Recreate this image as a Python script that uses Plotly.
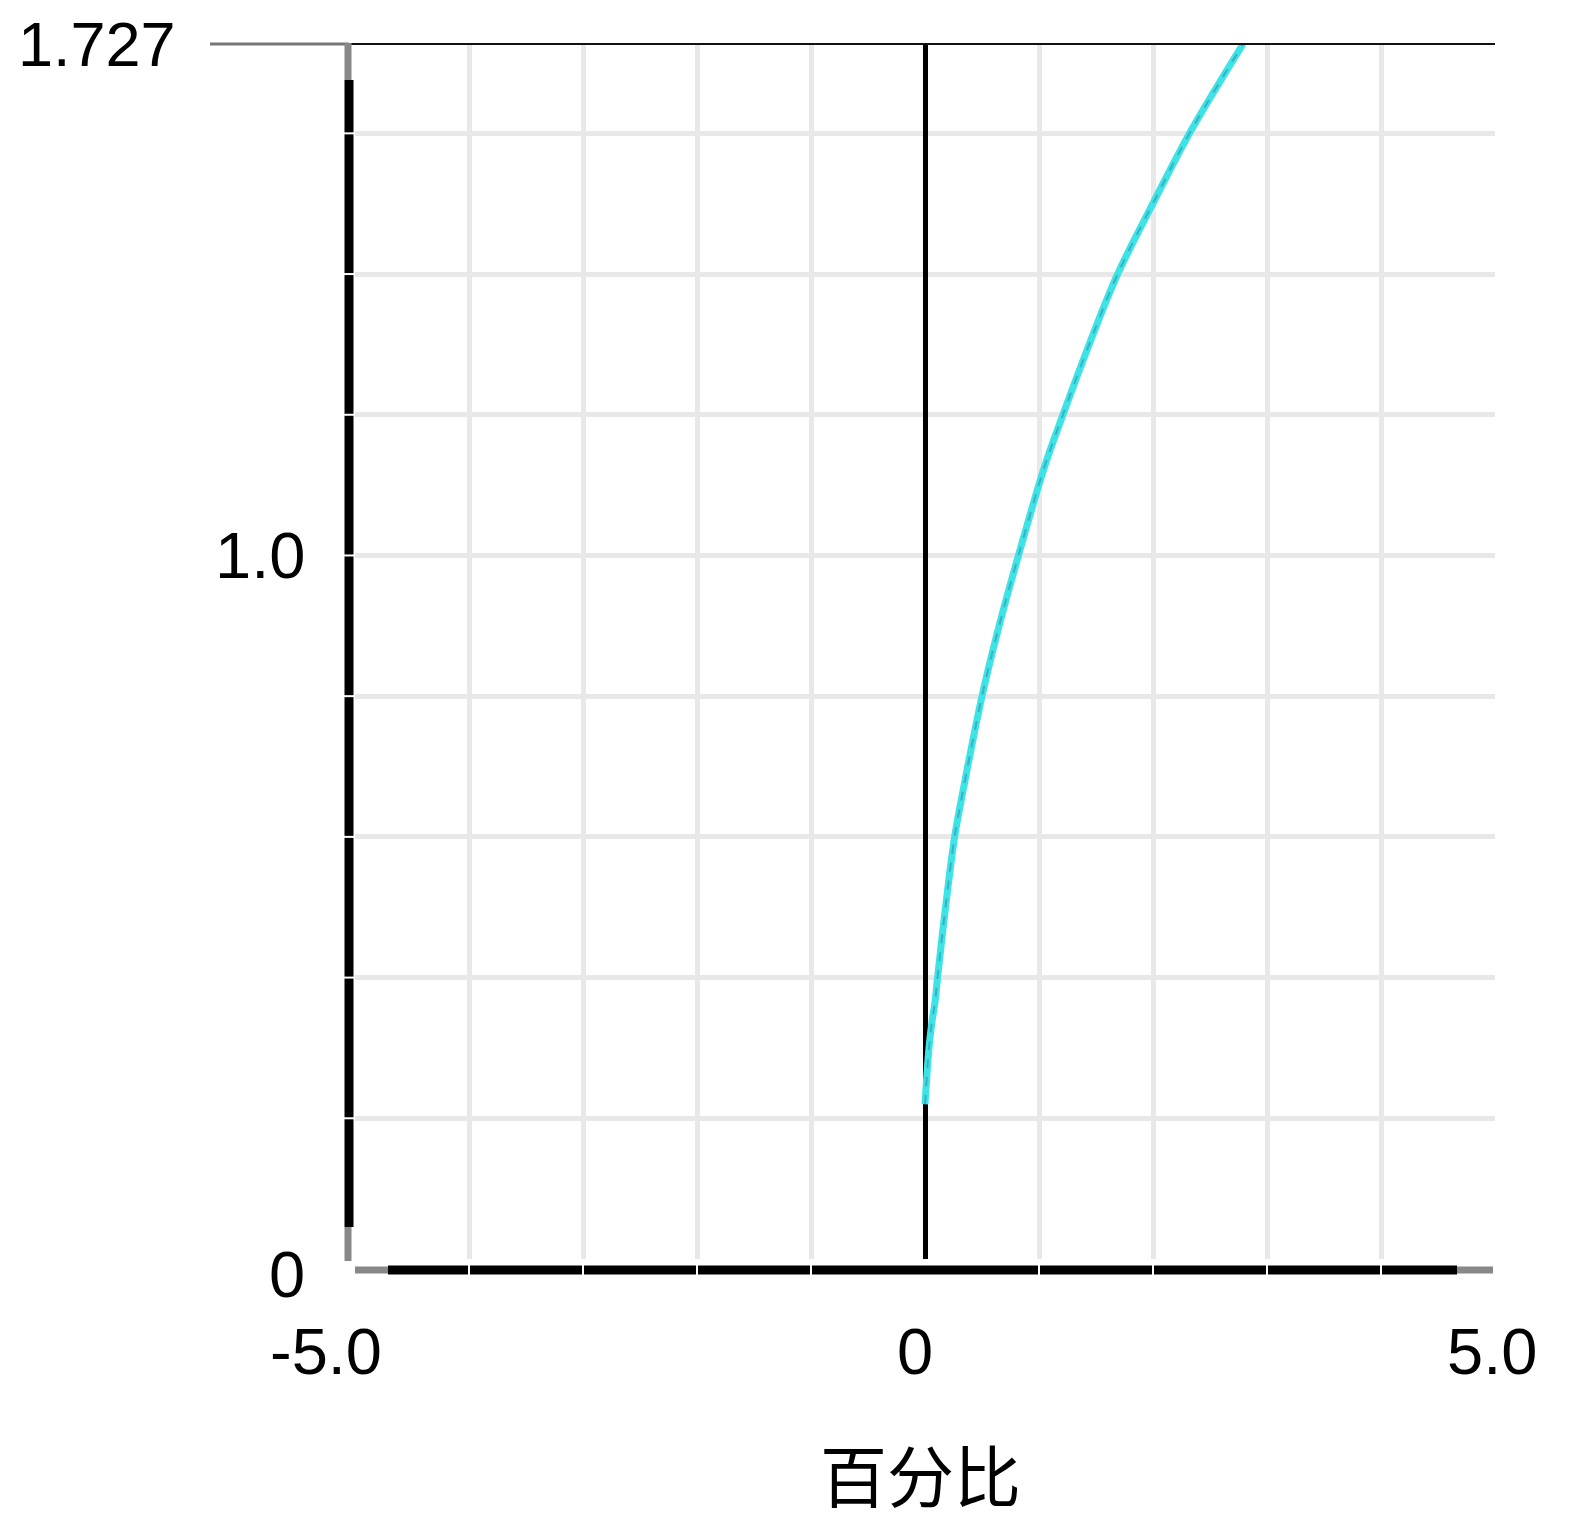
import plotly.graph_objects as go

# curve (x = percent, y = value)
curve_y = [0.22, 0.30, 0.336, 0.368, 0.40, 0.50, 0.60, 0.671, 0.80, 0.90, 1.00, 1.127, 1.20, 1.30, 1.40, 1.51, 1.60, 1.727]
curve_x = [0.00, 0.035, 0.06, 0.09, 0.11, 0.18, 0.26, 0.34, 0.50, 0.65, 0.82, 1.05, 1.21, 1.44, 1.69, 2.03, 2.32, 2.79]

x_ticks = [-5.0, 0.0, 5.0]
x_tick_text = ["-5.0", "0", "5.0"]
x_tick_shift = [-29, -10, -3]
y_ticks = [1.727, 1.0, 0.0]
y_tick_text = ["1.727", "1.0", "0"]
y_tick_right = [178, 307, 307]
y_tick_shift = [0, 0, -15]
grid_x = [-4, -3, -2, -1, 1, 2, 3, 4]
grid_y = [0.2, 0.4, 0.6, 0.8, 1.0, 1.2, 1.4, 1.6]

FONT = "Liberation Sans, Arial, sans-serif"
OFF = 8  # page body margin
W, H = 1575 - OFF, 1537 - OFF
L, T = 355 - OFF, 44 - OFF
R = W - (1495 - OFF)
B = H - (1259 - OFF)
pw, ph = W - L - R, H - T - B


def px(v):
    return (v - OFF - L) / pw


def py(v):
    return (H - B - (v - OFF)) / ph


fig = go.Figure()

fig.add_trace(go.Scatter(x=curve_x, y=curve_y, mode="lines",
                         line=dict(color="#3ee3e6", width=7, shape="spline", smoothing=1.0),
                         showlegend=False))
fig.add_trace(go.Scatter(x=curve_x, y=curve_y, mode="lines",
                         line=dict(color="#2a5a8a", width=2, dash="dash", shape="spline", smoothing=1.0),
                         opacity=0.35, showlegend=False))

shapes = []
# top border
shapes.append(dict(type="line", xref="paper", yref="paper", x0=px(210), x1=px(349), y0=1, y1=1,
                   line=dict(color="#777777", width=3)))
shapes.append(dict(type="line", xref="paper", yref="paper", x0=px(349), x1=px(1495), y0=1, y1=1,
                   line=dict(color="#111111", width=2)))
# left axis
shapes.append(dict(type="line", xref="paper", yref="paper", x0=px(349), x1=px(349), y0=py(80), y1=py(1227),
                   line=dict(color="black", width=9)))
for a, b in [(43, 80), (1227, 1261)]:
    shapes.append(dict(type="line", xref="paper", yref="paper", x0=px(348), x1=px(348), y0=py(a), y1=py(b),
                       line=dict(color="#888888", width=7)))
# bottom axis
shapes.append(dict(type="line", xref="paper", yref="paper", x0=px(388), x1=px(1457), y0=py(1270), y1=py(1270),
                   line=dict(color="black", width=9)))
for a, b in [(355, 388), (1457, 1493)]:
    shapes.append(dict(type="line", xref="paper", yref="paper", x0=px(a), x1=px(b), y0=py(1270), y1=py(1270),
                       line=dict(color="#888888", width=7)))
# small white notches where gridlines meet the axes
for gx in grid_x:
    shapes.append(dict(type="line", xref="x", yref="paper", x0=gx, x1=gx, y0=py(1264), y1=py(1276),
                       line=dict(color="white", width=2)))
for gy in grid_y:
    shapes.append(dict(type="line", xref="paper", yref="y", x0=px(344), x1=px(354), y0=gy, y1=gy,
                       line=dict(color="white", width=2)))

annotations = []
for v, t, s in zip(x_ticks, x_tick_text, x_tick_shift):
    annotations.append(dict(x=v, y=py(1351), xref="x", yref="paper", text=t, showarrow=False,
                            xshift=s, xanchor="center", yanchor="middle",
                            font=dict(family=FONT, size=65, color="black")))
for v, t, xr, s in zip(y_ticks, y_tick_text, y_tick_right, y_tick_shift):
    annotations.append(dict(x=px(xr), y=v, xref="paper", yref="y", text=t, showarrow=False,
                            yshift=s, xanchor="right", yanchor="middle",
                            font=dict(family=FONT, size=63 if t == "1.727" else 65, color="black")))
annotations.append(dict(x=px(920), y=py(1472), xref="paper", yref="paper", text="百分比", showarrow=False,
                        xanchor="center", yanchor="middle",
                        font=dict(family="Noto Sans CJK SC", size=67, color="black")))

fig.update_layout(
    width=W, height=H,
    margin=dict(l=L, r=R, t=T, b=B),
    paper_bgcolor="white", plot_bgcolor="white",
    shapes=shapes, annotations=annotations,
    showlegend=False,
)
fig.update_xaxes(range=[-5, 5], dtick=1, tick0=0, showgrid=True, gridcolor="#e8e8e8", gridwidth=5,
                 zeroline=True, zerolinecolor="black", zerolinewidth=5,
                 showticklabels=False, showline=False, ticks="")
fig.update_yaxes(range=[0, 1.727], dtick=0.2, tick0=0, showgrid=True, gridcolor="#e8e8e8", gridwidth=5,
                 zeroline=False, showticklabels=False, showline=False, ticks="")

fig.write_html("out.html")
